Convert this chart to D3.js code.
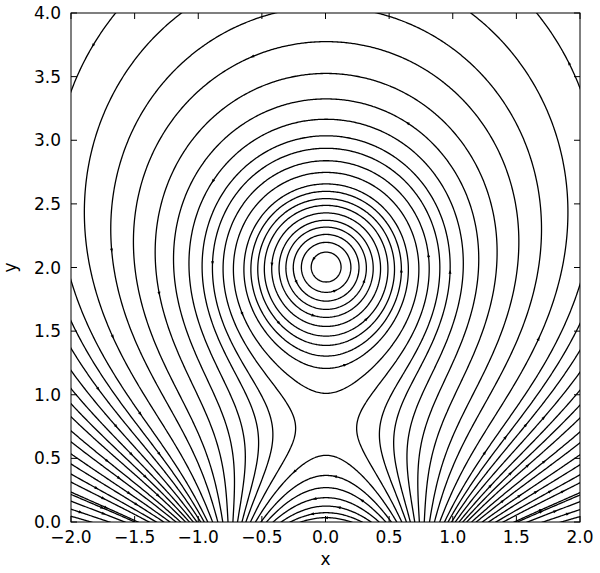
<!DOCTYPE html>
<html><head><meta charset="utf-8">
<script src="https://cdn.jsdelivr.net/npm/d3@7"></script>
<style>body{margin:0;background:#fff}svg text{font-family:"DejaVu Sans",sans-serif;fill:#000}</style>
</head><body><svg id="c" width="600" height="573"></svg>
<script>
// ---- data ----
const xTicks = [-2.0, -1.5, -1.0, -0.5, 0.0, 0.5, 1.0, 1.5, 2.0];
const yTicks = [0.0, 0.5, 1.0, 1.5, 2.0, 2.5, 3.0, 3.5, 4.0];
// flow model: vortex at (0,2) with its image below the wall y=0, source/sink pair under the wall
const vortexX = [0.0, 0.0], vortexY = [2.0, -2.0], vortexSign = [1, -1];
const saddleY = 0.75;                      // stagnation point under the vortex
const srcX = [-0.75, 0.75], srcY = [-0.4, -0.4], srcM = [-1, 1];
// seed points: where streamlines cross reference lines (each also mirrored in x)
const ringYs   = [1.881, 1.800, 1.731, 1.666, 1.603, 1.532, 1.456, 1.383, 1.299, 1.202, 1.006]; // at x=0, closed loops
const arcYs    = [0.519, 0.361, 0.265, 0.186, 0.120, 0.068, 0.029];                             // at x=0, arcs near origin
const saddleXs = [-0.24, -0.42];                                                                 // at y=0.72, beside the saddle
const outerYs  = [3.03, 3.16, 3.32, 3.52, 3.77];                                                 // at x=0, above vortex
const topXs    = [-1.65, -1.13, -0.38];                                                          // at y=4
const leftYs   = [1.878, 1.564, 1.352, 1.179, 1.037, 0.919, 0.817, 0.707, 0.621, 0.527, 0.448, 0.369, 0.306, 0.228, 0.157, 0.094, 0.039]; // at x=-2
const lowArcYs = [0.055];                                                                        // at x=-1.64

function psiSrc(x, y) {
  let v = 0;
  for (let k = 0; k < srcX.length; k++) v += srcM[k] * Math.atan((x - srcX[k]) / (y - srcY[k]));
  return v;
}
function psiVort(x, y) {
  let v = 0;
  for (let k = 0; k < vortexX.length; k++) {
    const r = Math.max(Math.hypot(x - vortexX[k], y - vortexY[k]), 1e-4);
    v += vortexSign[k] * Math.log(r);
  }
  return v;
}
const e = 1e-4;
const G = -((psiSrc(0, saddleY + e) - psiSrc(0, saddleY - e)) / (psiVort(0, saddleY + e) - psiVort(0, saddleY - e)));
const psi = (x, y) => G * psiVort(x, y) + psiSrc(x, y);

const L = 71, R = 580, T = 13, B = 522;
const svg = d3.select("#c");
const xS = d3.scaleLinear().domain([-2, 2]).range([L, R]);
const yS = d3.scaleLinear().domain([0, 4]).range([B, T]);

const h = 0.01, x0 = -2.06, y0 = -0.03, nx = 413, ny = 410;
const vals = new Float64Array(nx * ny);
for (let j = 0; j < ny; j++) for (let i = 0; i < nx; i++) vals[j * nx + i] = psi(x0 + i * h, y0 + j * h);
const contours = d3.contours().size([nx, ny]);

const seeds = [].concat(
  ringYs.map(y => [0, y]), arcYs.map(y => [0, y]), outerYs.map(y => [0, y]),
  saddleXs.map(x => [x, 0.72]), topXs.map(x => [x, 4]), leftYs.map(y => [-2, y]),
  lowArcYs.map(y => [-1.64, y])
);

// streamline pieces through each seed (and its mirror image)
const pieces = [];
seeds.forEach(([sx, sy]) => {
  const lv = psi(sx, sy);
  const mp = contours.contour(vals, lv);
  const targets = [[sx, sy], [-sx, sy]];
  mp.coordinates.forEach(poly => poly.forEach(ring => {
    let cur = [];
    const segs = [];
    ring.forEach(([gx, gy]) => {
      if (gx <= 0.5 || gx >= nx - 0.5 || gy <= 0.5 || gy >= ny - 0.5) {
        if (cur.length > 1) segs.push(cur);
        cur = [];
      } else cur.push([x0 + gx * h, y0 + gy * h]);
    });
    if (cur.length > 1) segs.push(cur);
    segs.forEach(s => {
      let near = false;
      for (const p of s) {
        for (const t of targets) if (Math.hypot(p[0] - t[0], p[1] - t[1]) < 0.02) { near = true; break; }
        if (near) break;
      }
      if (near) pieces.push(s);
    });
  }));
});
const uniq = [];
const seen = new Set();
pieces.forEach(s => { const k = s.length + ":" + s[0][0].toFixed(3) + ":" + s[0][1].toFixed(3); if (!seen.has(k)) { seen.add(k); uniq.push(s); } });

svg.append("defs").append("clipPath").attr("id", "clipAll").append("rect")
  .attr("x", L).attr("y", T).attr("width", R - L).attr("height", B - T);

const line = d3.line().x(d => xS(d[0])).y(d => yS(d[1]));
const g = svg.append("g").attr("clip-path", "url(#clipAll)");
uniq.forEach((s, idx) => {
  g.append("path").attr("d", line(s)).attr("fill", "none").attr("stroke", "#000").attr("stroke-width", 1.3);
  // small arrow head somewhere along the visible part of each streamline
  const vis = s.filter(p => p[0] >= -1.97 && p[0] <= 1.97 && p[1] >= 0.03 && p[1] <= 3.97);
  if (vis.length > 12) {
    const f = 0.2 + 0.6 * ((idx * 0.618034) % 1);
    const m = Math.min(vis.length - 3, Math.max(2, Math.floor(vis.length * f)));
    const a = vis[m - 2], b = vis[m + 2];
    const ang = Math.atan2(yS(b[1]) - yS(a[1]), xS(b[0]) - xS(a[0])) * 180 / Math.PI;
    g.append("path").attr("d", "M2.2,0L-1.8,-1.5L-1.8,1.5Z")
      .attr("transform", `translate(${xS(vis[m][0])},${yS(vis[m][1])}) rotate(${ang})`)
      .attr("fill", "#000");
  }
});

svg.append("rect").attr("x", L).attr("y", T).attr("width", R - L).attr("height", B - T)
  .attr("fill", "none").attr("stroke", "#000").attr("stroke-width", 1);

const fmt = v => d3.format(".1f")(v).replace("-", "\u2212");
const tl = 6;
xTicks.forEach(v => {
  const x = xS(v);
  svg.append("line").attr("x1", x).attr("x2", x).attr("y1", B).attr("y2", B - tl).attr("stroke", "#000");
  svg.append("line").attr("x1", x).attr("x2", x).attr("y1", T).attr("y2", T + tl).attr("stroke", "#000");
  svg.append("text").attr("x", x).attr("y", 543).attr("text-anchor", "middle").attr("font-size", 17).text(fmt(v));
});
yTicks.forEach(v => {
  const y = yS(v);
  svg.append("line").attr("x1", L).attr("x2", L + tl).attr("y1", y).attr("y2", y).attr("stroke", "#000");
  svg.append("line").attr("x1", R).attr("x2", R - tl).attr("y1", y).attr("y2", y).attr("stroke", "#000");
  svg.append("text").attr("x", 61).attr("y", y).attr("dy", "0.36em").attr("text-anchor", "end").attr("font-size", 17).text(fmt(v));
});
svg.append("text").attr("x", (L + R) / 2).attr("y", 565).attr("text-anchor", "middle").attr("font-size", 17).text("x");
svg.append("text").attr("transform", `translate(16,${(T + B) / 2}) rotate(-90)`).attr("text-anchor", "middle").attr("font-size", 17).text("y");
</script></body></html>
